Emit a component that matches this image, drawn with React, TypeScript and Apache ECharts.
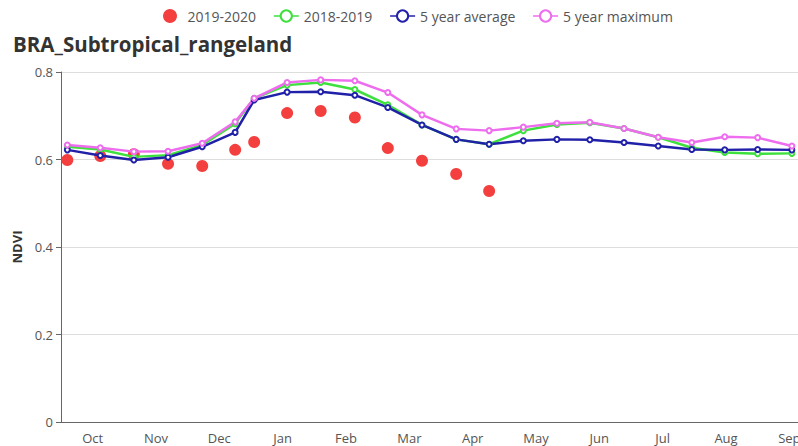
import React, { useEffect, useRef } from "react";
import * as echarts from "echarts";

const title = "BRA_Subtropical_rangeland";
const months = ["Oct", "Nov", "Dec", "Jan", "Feb", "Mar", "Apr", "May", "Jun", "Jul", "Aug", "Sep"];
// position of each 16-day composite, in months since 1 Oct
const xPos = [0.1, 0.62, 1.15, 1.69, 2.23, 2.75, 3.05, 3.57, 4.1, 4.64, 5.16, 5.7, 6.24, 6.76, 7.3, 7.83, 8.35, 8.89, 9.43, 9.96, 10.48, 11.0, 11.54];
const s2019_2020 = [0.599, 0.608, 0.612, 0.59, 0.585, 0.622, 0.64, 0.706, 0.711, 0.696, 0.626, 0.597, 0.567, 0.528];
const s2018_2019 = [0.629, 0.623, 0.606, 0.61, 0.633, 0.682, 0.74, 0.77, 0.776, 0.76, 0.725, 0.679, 0.646, 0.635, 0.666, 0.68, 0.684, 0.671, 0.651, 0.627, 0.616, 0.613, 0.614];
const avg5 = [0.622, 0.609, 0.599, 0.605, 0.629, 0.662, 0.736, 0.754, 0.755, 0.747, 0.719, 0.679, 0.646, 0.635, 0.643, 0.646, 0.645, 0.639, 0.631, 0.623, 0.622, 0.623, 0.622];
const max5 = [0.633, 0.627, 0.618, 0.619, 0.637, 0.686, 0.74, 0.776, 0.782, 0.78, 0.753, 0.702, 0.67, 0.666, 0.674, 0.683, 0.685, 0.671, 0.651, 0.639, 0.652, 0.65, 0.631];

const pair = (vals: number[]) => vals.map((v, i) => [xPos[i], v]);
const FONT = "'Open Sans', 'Noto Sans', sans-serif";

export default function App() {
  const ref = useRef<HTMLDivElement>(null);
  useEffect(() => {
    document.body.style.margin = "0";
    const chart = echarts.init(ref.current!, null, { renderer: "svg" });
    const lineSeries = (name: string, data: number[], color: string) => ({
      name,
      type: "line",
      xAxisIndex: 1,
      data: pair(data),
      symbol: "emptyCircle",
      symbolSize: 5,
      showSymbol: true,
      lineStyle: { color, width: 2.5 },
      itemStyle: { color, borderWidth: 1.5 },
    });
    chart.setOption({
      animation: false,
      textStyle: { fontFamily: FONT },
      title: {
        text: title,
        left: 8,
        top: 28,
        textStyle: { fontSize: 20.5, fontWeight: "bold", color: "#333", fontFamily: FONT },
      },
      legend: {
        top: 4,
        left: 158,
        itemWidth: 25,
        itemHeight: 14,
        itemGap: 17,
        lineStyle: { width: 1.5 },
        textStyle: { fontSize: 14, color: "#555", fontFamily: FONT },
        data: [
          { name: "2019-2020", icon: "circle" },
          "2018-2019",
          "5 year average",
          "5 year maximum",
        ],
      },
      grid: { left: 61, top: 72, bottom: 24, right: 9 },
      xAxis: [
        {
          type: "category",
          data: months,
          boundaryGap: true,
          axisLine: { lineStyle: { color: "#666" } },
          axisTick: { lineStyle: { color: "#666" } },
          axisLabel: { color: "#555", fontSize: 13, fontFamily: FONT, margin: 9 },
          splitLine: { show: false },
        },
        {
          type: "value",
          min: 0,
          max: 12,
          show: false,
          splitLine: { show: false },
        },
      ],
      yAxis: {
        type: "value",
        min: 0,
        max: 0.8,
        interval: 0.2,
        name: "NDVI",
        nameLocation: "middle",
        nameGap: 38,
        nameTextStyle: { fontWeight: "bold", fontSize: 13, color: "#333", fontFamily: FONT },
        axisLine: { show: true, lineStyle: { color: "#666" } },
        axisTick: { show: true, lineStyle: { color: "#666" } },
        axisLabel: { color: "#555", fontSize: 13, fontFamily: FONT, margin: 8 },
        splitLine: { lineStyle: { color: "#ddd" } },
      },
      series: [
        {
          name: "2019-2020",
          type: "scatter",
          xAxisIndex: 1,
          data: pair(s2019_2020),
          symbolSize: 12,
          itemStyle: { color: "#f43f3f", opacity: 1 },
        },
        lineSeries("2018-2019", s2018_2019, "#3de03d"),
        lineSeries("5 year average", avg5, "#2020a8"),
        lineSeries("5 year maximum", max5, "#ee6cee"),
      ],
    });
    return () => chart.dispose();
  }, []);
  return (
    <div style={{ width: 798, height: 446, overflow: "hidden", position: "relative" }}>
      <div ref={ref} style={{ width: 830, height: 446 }} />
    </div>
  );
}
